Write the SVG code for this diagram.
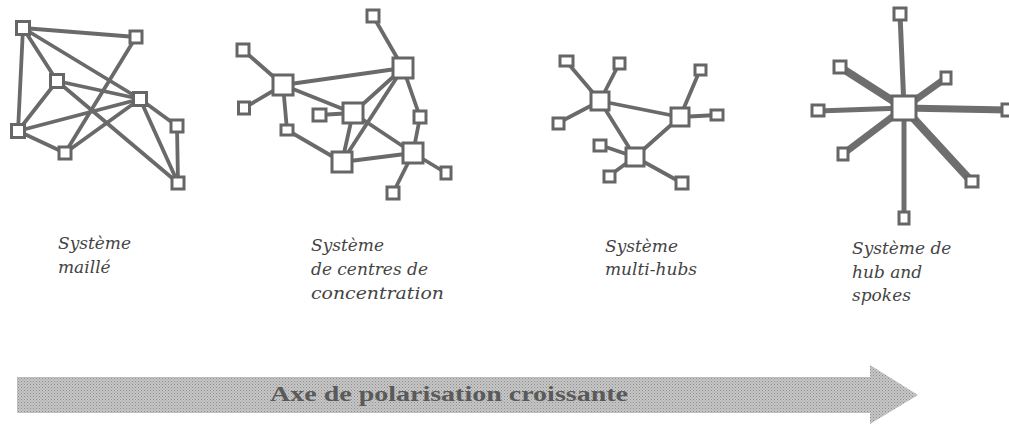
<svg xmlns="http://www.w3.org/2000/svg" width="1009" height="434" viewBox="0 0 1009 434">
<defs>
<style>
.e{stroke:#6a6a6a;stroke-width:3.8;stroke-linecap:round;fill:none}
.t{stroke:#6e6e6e;stroke-linecap:butt;fill:none}
.n rect{fill:#fff;stroke:#666;stroke-width:3}
.lbl{font-family:"DejaVu Serif",serif;font-style:italic;font-size:17px;fill:#444}
.ax{font-family:"Liberation Serif",serif;font-weight:bold;font-size:20px;fill:#5a5a5a}
</style>
<pattern id="ht" width="3" height="3" patternUnits="userSpaceOnUse">
<rect width="3" height="3" fill="#c6c6c6"/>
<rect x="0" y="0" width="1" height="1" fill="#8e8e8e"/>
<rect x="1.5" y="1.5" width="1" height="1" fill="#9a9a9a"/>
</pattern>
</defs>
<rect width="1009" height="434" fill="#fff"/>

<g id="connectors">
<!-- maille -->
<g class="e">
<line x1="23" y1="28" x2="136" y2="37"/>
<line x1="23" y1="28" x2="18" y2="131"/>
<line x1="23" y1="28" x2="57" y2="81"/>
<line x1="23" y1="28" x2="140" y2="99"/>
<line x1="136" y1="37" x2="65" y2="153"/>
<line x1="57" y1="81" x2="18" y2="131"/>
<line x1="57" y1="81" x2="140" y2="99"/>
<line x1="57" y1="81" x2="178" y2="183"/>
<line x1="18" y1="131" x2="140" y2="99"/>
<line x1="18" y1="131" x2="65" y2="153"/>
<line x1="65" y1="153" x2="140" y2="99"/>
<line x1="140" y1="99" x2="177" y2="126"/>
<line x1="140" y1="99" x2="178" y2="183"/>
<line x1="177" y1="126" x2="178" y2="183"/>
</g>
<!-- centres de concentration -->
<g class="e">
<line x1="373" y1="16" x2="403" y2="68"/>
<line x1="243" y1="50" x2="283" y2="85"/>
<line x1="244" y1="108" x2="283" y2="85"/>
<line x1="283" y1="85" x2="403" y2="68"/>
<line x1="283" y1="85" x2="353" y2="113"/>
<line x1="283" y1="85" x2="287" y2="130"/>
<line x1="287" y1="130" x2="342" y2="162"/>
<line x1="319" y1="115" x2="353" y2="113"/>
<line x1="353" y1="113" x2="403" y2="68"/>
<line x1="353" y1="113" x2="342" y2="162"/>
<line x1="353" y1="113" x2="413" y2="153"/>
<line x1="403" y1="68" x2="342" y2="162"/>
<line x1="403" y1="68" x2="420" y2="117"/>
<line x1="420" y1="117" x2="413" y2="153"/>
<line x1="342" y1="162" x2="413" y2="153"/>
<line x1="413" y1="153" x2="446" y2="173"/>
<line x1="413" y1="153" x2="393" y2="193"/>
</g>
<!-- multi-hubs -->
<g class="e">
<line x1="566" y1="61" x2="600" y2="101"/>
<line x1="619" y1="64" x2="600" y2="101"/>
<line x1="558" y1="123" x2="600" y2="101"/>
<line x1="600" y1="101" x2="680" y2="117"/>
<line x1="600" y1="101" x2="635" y2="157"/>
<line x1="680" y1="117" x2="700" y2="70"/>
<line x1="680" y1="117" x2="717" y2="115"/>
<line x1="680" y1="117" x2="635" y2="157"/>
<line x1="635" y1="157" x2="600" y2="145"/>
<line x1="635" y1="157" x2="609" y2="176"/>
<line x1="635" y1="157" x2="682" y2="183"/>
</g>
<!-- hub and spokes -->
<g class="t">
<line x1="904" y1="108" x2="900" y2="14" stroke-width="5"/>
<line x1="904" y1="108" x2="840" y2="67" stroke-width="8"/>
<line x1="904" y1="108" x2="946" y2="78" stroke-width="7"/>
<line x1="904" y1="108" x2="818" y2="111" stroke-width="5"/>
<line x1="904" y1="108" x2="1007" y2="110" stroke-width="7"/>
<line x1="904" y1="108" x2="843" y2="154" stroke-width="7"/>
<line x1="904" y1="108" x2="972" y2="182" stroke-width="8"/>
<line x1="904" y1="108" x2="904" y2="218" stroke-width="5"/>
</g>
</g>

<!-- maille nodes -->
<g id="m-a" class="n"><rect x="16.5" y="21.5" width="13" height="13"/></g>
<g id="m-b" class="n"><rect x="130" y="31" width="12" height="12"/></g>
<g id="m-c" class="n"><rect x="50.5" y="74.5" width="13" height="13"/></g>
<g id="m-d" class="n"><rect x="133.5" y="92.5" width="13" height="13"/></g>
<g id="m-e" class="n"><rect x="171" y="120" width="12" height="12"/></g>
<g id="m-f" class="n"><rect x="11.5" y="124.5" width="13" height="13"/></g>
<g id="m-g" class="n"><rect x="59" y="147" width="12" height="12"/></g>
<g id="m-h" class="n"><rect x="172" y="177" width="12" height="12"/></g>

<!-- concentration nodes -->
<g id="c-1" class="n"><rect x="367" y="10" width="12" height="12"/></g>
<g id="c-2" class="n"><rect x="393" y="58" width="20" height="20"/></g>
<g id="c-3" class="n"><rect x="237" y="44" width="12" height="12"/></g>
<g id="c-4" class="n"><rect x="273" y="75" width="20" height="20"/></g>
<g id="c-5" class="n"><rect x="238.5" y="102" width="11" height="12"/></g>
<g id="c-6" class="n"><rect x="281" y="125" width="12" height="10"/></g>
<g id="c-7" class="n"><rect x="313" y="109" width="13" height="12"/></g>
<g id="c-8" class="n"><rect x="343" y="103" width="20" height="20"/></g>
<g id="c-9" class="n"><rect x="414" y="111" width="12" height="12"/></g>
<g id="c-10" class="n"><rect x="332" y="152" width="20" height="20"/></g>
<g id="c-11" class="n"><rect x="403" y="143" width="20" height="20"/></g>
<g id="c-12" class="n"><rect x="441" y="167" width="10" height="12"/></g>
<g id="c-13" class="n"><rect x="387" y="187" width="12" height="12"/></g>

<!-- multi-hubs nodes -->
<g id="h-1" class="n"><rect x="591" y="92" width="18" height="18"/></g>
<g id="h-2" class="n"><rect x="671" y="108" width="18" height="18"/></g>
<g id="h-3" class="n"><rect x="626" y="148" width="18" height="18"/></g>
<g id="h-s1" class="n"><rect x="560" y="56" width="13" height="10"/></g>
<g id="h-s2" class="n"><rect x="614" y="58" width="11" height="11"/></g>
<g id="h-s3" class="n"><rect x="553" y="118" width="11" height="11"/></g>
<g id="h-s4" class="n"><rect x="695" y="65" width="11" height="10"/></g>
<g id="h-s5" class="n"><rect x="711" y="110" width="12" height="10"/></g>
<g id="h-s6" class="n"><rect x="594" y="140" width="12" height="11"/></g>
<g id="h-s7" class="n"><rect x="604" y="171" width="11" height="11"/></g>
<g id="h-s8" class="n"><rect x="676" y="177" width="12" height="12"/></g>

<!-- hub and spokes nodes -->
<g id="s-hub" class="n"><rect x="892" y="96" width="24" height="24"/></g>
<g id="s-top" class="n"><rect x="894" y="8" width="12" height="12"/></g>
<g id="s-ul" class="n"><rect x="834" y="61" width="12" height="12"/></g>
<g id="s-ur" class="n"><rect x="941" y="72" width="10" height="12"/></g>
<g id="s-l" class="n"><rect x="812" y="105" width="12" height="11"/></g>
<g id="s-r" class="n"><rect x="1002" y="104" width="12" height="12"/></g>
<g id="s-ll" class="n"><rect x="838" y="148" width="10" height="12"/></g>
<g id="s-lr" class="n"><rect x="966" y="176" width="12" height="11"/></g>
<g id="s-b" class="n"><rect x="899" y="212" width="10" height="12"/></g>

<!-- labels -->
<g id="lbl-maille" class="lbl">
<text x="58" y="249">Système</text>
<text x="58" y="273">maillé</text>
</g>
<g id="lbl-conc" class="lbl">
<text x="311" y="251">Système</text>
<text x="311" y="275">de centres de</text>
<text x="311" y="299" textLength="133" lengthAdjust="spacingAndGlyphs">concentration</text>
</g>
<g id="lbl-multi" class="lbl">
<text x="605" y="252">Système</text>
<text x="605" y="275">multi-hubs</text>
</g>
<g id="lbl-hub" class="lbl">
<text x="852" y="254">Système de</text>
<text x="852" y="278">hub and</text>
<text x="852" y="301">spokes</text>
</g>

<!-- axis arrow -->
<g id="axis">
<polygon points="17,377 870,377 870,365 918,395 870,424 870,413 17,413" fill="url(#ht)"/>
<text class="ax" x="270" y="401" textLength="358" lengthAdjust="spacingAndGlyphs">Axe de polarisation croissante</text>
</g>
</svg>
